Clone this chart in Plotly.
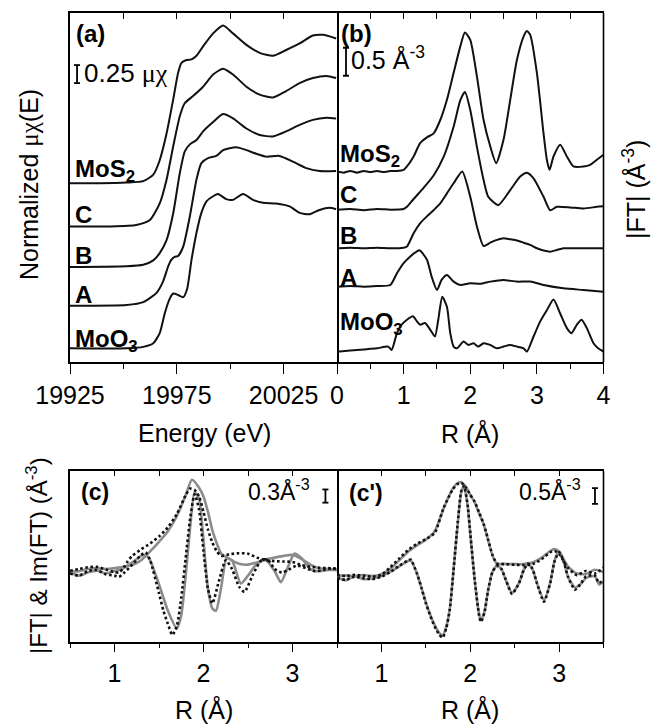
import plotly.graph_objects as go

W, H = 653, 725
FONT = "Liberation Sans, Arial, sans-serif"

# ---------------- Panel (a): normalized XANES, Energy (eV) ----------------
a_labels = ["MoS<sub>2</sub>", "C", "B", "A", "MoO<sub>3</sub>"]
a_offsets = [2.48, 1.88, 1.32, 0.78, 0.19]

a_mos2_E = [19925, 19936, 19951.5, 19959.3, 19964, 19967, 19970.2, 19973.3, 19975.6, 19977.2, 19979.5,
            19981.9, 19984.2, 19987.3, 19992, 19996.7, 20001.3, 20007.6, 20013.8, 20020, 20026.2,
            20032.5, 20038.7, 20043.4, 20049.6]
a_mos2_mu = [0, 0, 0.01, 0.03, 0.12, 0.32, 0.69, 1.16, 1.53, 1.67, 1.71, 1.72, 1.77, 1.90, 2.08, 2.19,
             2.08, 1.92, 1.81, 1.77, 1.85, 1.94, 2.05, 2.06, 2.01]

a_c_E = [19925, 19943.7, 19956, 19962.4, 19967, 19970.2, 19973.3, 19976.4, 19978.7, 19982.6, 19987.3,
         19992, 19996.7, 20001.3, 20007.6, 20013.8, 20020, 20026.2, 20032.5, 20038.7, 20045, 20049.6]
a_c_mu = [0, 0, 0.02, 0.09, 0.32, 0.65, 1.11, 1.53, 1.71, 1.81, 1.94, 2.11, 2.19, 2.11, 1.94, 1.83,
          1.79, 1.88, 1.99, 2.06, 2.09, 2.06]

a_b_E = [19925, 19951.5, 19959.3, 19964, 19967, 19970.2, 19973.3, 19976.4, 19978.7, 19981.1, 19984.2,
         19987.3, 19992, 19996.7, 20001.3, 20007.6, 20013.8, 20020, 20026.2, 20032.5, 20038.7, 20045,
         20049.6]
a_b_mu = [0, 0.01, 0.03, 0.09, 0.19, 0.37, 0.74, 1.30, 1.60, 1.70, 1.76, 1.88, 2.01, 2.12, 2.06, 1.92,
          1.83, 1.81, 1.88, 1.97, 2.04, 2.07, 2.06]

a_a_E = [19925, 19951.5, 19959.3, 19965.5, 19968.6, 19971, 19972.5, 19974, 19975.6, 19978, 19981.1,
         19984.2, 19986.5, 19989.6, 19993.5, 19996.7, 20002.9, 20007.6, 20012.2, 20016.9, 20023.1,
         20029.4, 20035.6, 20041.8, 20049.6]
a_a_mu = [0, 0.01, 0.05, 0.18, 0.34, 0.55, 0.64, 0.68, 0.69, 0.82, 1.24, 1.75, 1.98, 2.05, 2.08, 2.16,
          2.20, 2.16, 2.11, 2.07, 2.08, 2.00, 1.91, 1.87, 1.87]

a_moo3_E = [19925, 19951.5, 19959.3, 19964, 19967, 19969.4, 19971.7, 19973.3, 19975.6, 19978, 19979.8,
            19981.9, 19984.2, 19986.5, 19988.9, 19992, 19994.3, 19998.2, 20001.3, 20006, 20010.7,
            20015.3, 20021.6, 20027.8, 20032.5, 20037.2, 20041.8, 20046.5, 20049.6]
a_moo3_mu = [0, 0, 0.02, 0.07, 0.21, 0.49, 0.69, 0.76, 0.74, 0.71, 0.82, 1.23, 1.60, 1.88, 2.04, 2.11,
             2.14, 2.07, 2.06, 2.14, 2.06, 2.02, 2.01, 1.97, 1.88, 1.86, 1.92, 1.95, 1.93]

a_E = [a_mos2_E, a_c_E, a_b_E, a_a_E, a_moo3_E]
a_mu = [a_mos2_mu, a_c_mu, a_b_mu, a_a_mu, a_moo3_mu]
a_ticks = [19925, 19975, 20025]
a_ticktext = ["19925", "19975", "20025"]

# ---------------- Panel (b): |FT| vs R ----------------
b_offsets = [3.38, 2.71, 2.03, 1.345, 0.185]

b_mos2_R = [0, 0.1, 0.2, 0.3, 0.4, 0.5, 0.6, 0.7, 0.8, 0.9, 1.0, 1.05, 1.15, 1.25, 1.35, 1.45, 1.55, 1.65,
            1.75, 1.85, 1.92, 2.0, 2.1, 2.2, 2.3, 2.39, 2.5, 2.6, 2.7, 2.8, 2.85, 2.9, 3.0, 3.1, 3.15,
            3.19, 3.25, 3.35, 3.45, 3.55, 3.7, 3.8, 3.9, 4.0]
b_mos2_ft = [0.02, 0.0, 0.03, 0.0, 0.03, 0.01, 0.03, 0.01, 0.03, 0.03, 0.05, 0.11, 0.29, 0.53, 0.63,
             0.70, 0.94, 1.30, 1.78, 2.25, 2.50, 2.37, 1.72, 0.94, 0.47, 0.17, 0.59, 1.30, 2.01, 2.43,
             2.53, 2.46, 1.78, 0.70, 0.23, 0.05, 0.29, 0.50, 0.29, 0.11, 0.11, 0.14, 0.23, 0.32]

b_c_R = [0, 0.2, 0.4, 0.6, 0.8, 1.0, 1.05, 1.15, 1.3, 1.45, 1.6, 1.75, 1.85, 1.92, 2.0, 2.1, 2.2, 2.27,
         2.42, 2.6, 2.75, 2.85, 2.95, 3.1, 3.2, 3.3, 3.5, 3.7, 3.9, 4.0]
b_c_ft = [0.01, 0.02, 0.0, 0.02, 0.01, 0.02, 0.06, 0.20, 0.40, 0.62, 0.95, 1.49, 1.96, 2.11, 1.79, 1.13,
          0.54, 0.24, 0.09, 0.36, 0.60, 0.67, 0.57, 0.24, 0.0, 0.06, 0.05, 0.03, 0.06, 0.07]

b_b_R = [0, 0.2, 0.4, 0.6, 0.8, 1.0, 1.05, 1.15, 1.25, 1.35, 1.45, 1.55, 1.65, 1.75, 1.88, 2.0, 2.1, 2.2,
         2.3, 2.4, 2.5, 2.6, 2.7, 2.8, 2.9, 3.0, 3.1, 3.2, 3.3, 3.4, 3.6, 3.8, 4.0]
b_b_ft = [0.0, 0.01, 0.0, 0.01, 0.0, 0.01, 0.03, 0.27, 0.45, 0.57, 0.68, 0.80, 0.98, 1.16, 1.37, 0.92,
          0.39, 0.04, 0.10, 0.15, 0.18, 0.16, 0.14, 0.10, 0.06, 0.0, -0.04, -0.06, -0.03, 0.0, 0.0,
          0.0, 0.0]

b_a_R = [0, 0.2, 0.4, 0.6, 0.8, 0.9, 1.0, 1.1, 1.2, 1.24, 1.35, 1.42, 1.5, 1.57, 1.65, 1.75, 1.85, 2.0,
         2.15, 2.3, 2.5, 2.7, 2.9, 3.1, 3.4, 3.7, 4.0]
b_a_ft = [0.0, 0.01, 0.0, 0.01, 0.03, 0.24, 0.42, 0.54, 0.63, 0.65, 0.48, 0.18, -0.06, 0.12, 0.21,
          0.09, 0.03, 0.06, 0.05, 0.09, 0.12, 0.09, 0.09, 0.03, -0.03, -0.06, -0.09]

b_moo3_R = [0, 0.2, 0.4, 0.6, 0.77, 0.82, 0.9, 0.97, 1.05, 1.14, 1.2, 1.25, 1.32, 1.4, 1.47, 1.52, 1.58,
            1.65, 1.7, 1.75, 1.8, 1.9, 1.97, 2.05, 2.12, 2.2, 2.3, 2.4, 2.5, 2.6, 2.7, 2.8, 2.85,
            2.95, 3.05, 3.15, 3.25, 3.35, 3.45, 3.52, 3.6, 3.67, 3.75, 3.85, 3.92, 4.0]
b_moo3_ft = [0, 0.02, 0.04, 0.06, 0.09, 0.03, 0.33, 0.48, 0.57, 0.63, 0.54, 0.48, 0.51, 0.39, 0.27,
             0.57, 0.98, 0.80, 0.33, 0.09, 0.06, 0.18, 0.12, 0.15, 0.09, 0.15, 0.12, 0.06, 0.09, 0.12,
             0.09, 0.06, 0.0, 0.27, 0.54, 0.74, 0.93, 0.68, 0.42, 0.33, 0.48, 0.57, 0.42, 0.15, 0.06,
             0.0]

b_R = [b_mos2_R, b_c_R, b_b_R, b_a_R, b_moo3_R]
b_ft = [b_mos2_ft, b_c_ft, b_b_ft, b_a_ft, b_moo3_ft]

# ---------------- Panel (c): data vs fit ----------------
c_abs_data_R = [0.5, 0.6, 0.7, 0.8, 0.9, 1.0, 1.05, 1.1, 1.15, 1.2, 1.3, 1.4, 1.5, 1.6, 1.7, 1.8, 1.85,
                1.9, 1.95, 2.0, 2.05, 2.1, 2.15, 2.2, 2.3, 2.4, 2.5, 2.6, 2.7, 2.8, 2.9, 3.0, 3.1, 3.2,
                3.3, 3.4, 3.5]
c_abs_data = [0.06, 0.10, 0.14, 0.15, 0.09, 0.03, 0.02, 0.12, 0.28, 0.40, 0.55, 0.68, 0.84, 1.05, 1.35,
              1.78, 1.93, 1.90, 1.75, 1.40, 1.00, 0.70, 0.50, 0.40, 0.44, 0.46, 0.45, 0.36, 0.30, 0.28,
              0.27, 0.26, 0.19, 0.15, 0.13, 0.12, 0.10]
c_abs_fit_R = [0.5, 0.6, 0.7, 0.8, 0.9, 1.0, 1.1, 1.2, 1.3, 1.4, 1.5, 1.6, 1.7, 1.8, 1.87, 1.95, 2.0,
               2.05, 2.1, 2.15, 2.2, 2.3, 2.4, 2.5, 2.6, 2.7, 2.8, 2.9, 3.0, 3.1, 3.2, 3.3, 3.4, 3.5]
c_abs_fit = [0.04, 0.05, 0.10, 0.12, 0.10, 0.12, 0.15, 0.19, 0.30, 0.50, 0.72, 0.96, 1.30, 1.78, 2.13,
             1.95, 1.75, 1.40, 0.98, 0.68, 0.45, 0.32, 0.22, 0.20, 0.25, 0.32, 0.36, 0.40, 0.42, 0.33,
             0.20, 0.12, 0.10, 0.08]
c_im_data_R = [0.5, 0.6, 0.7, 0.8, 0.9, 1.0, 1.05, 1.1, 1.2, 1.3, 1.35, 1.4, 1.5, 1.55, 1.6, 1.65, 1.7,
               1.75, 1.8, 1.85, 1.9, 1.95, 2.0, 2.05, 2.1, 2.17, 2.25, 2.32, 2.4, 2.46, 2.55, 2.65,
               2.72, 2.8, 2.88, 2.95, 3.05, 3.15, 3.25, 3.35, 3.45, 3.5]
c_im_data = [0.0, -0.05, 0.05, 0.08, -0.02, -0.05, -0.08, 0.0, 0.20, 0.42, 0.48, 0.30, -0.45, -0.85,
             -1.15, -1.40, -1.20, -0.55, 0.35, 1.25, 1.80, 1.45, 0.50, -0.35, -0.68, -0.20, 0.30, 0.10,
             -0.30, -0.42, -0.05, 0.30, 0.32, 0.10, 0.02, 0.08, 0.18, 0.12, 0.05, 0.08, 0.12, 0.10]
c_im_fit_R = [0.5, 0.6, 0.7, 0.8, 0.9, 1.0, 1.1, 1.2, 1.3, 1.35, 1.4, 1.5, 1.6, 1.7, 1.75, 1.8, 1.85,
              1.9, 1.95, 2.0, 2.05, 2.1, 2.14, 2.2, 2.26, 2.32, 2.42, 2.5, 2.6, 2.7, 2.8, 2.87, 2.95,
              3.02, 3.1, 3.2, 3.3, 3.4, 3.5]
c_im_fit = [0.02, -0.05, 0.02, 0.06, 0.0, 0.05, 0.12, 0.25, 0.40, 0.42, 0.30, -0.25, -0.85, -1.25,
            -0.95, -0.05, 1.05, 1.85, 1.70, 0.75, -0.35, -0.80, -0.85, -0.30, 0.35, 0.30, -0.23, -0.05,
            0.22, 0.30, 0.05, -0.20, 0.15, 0.45, 0.35, 0.10, 0.05, 0.08, 0.08]

# ---------------- Panel (c'): data vs fit ----------------
cp_abs_R = [0.5, 0.6, 0.7, 0.8, 0.9, 1.0, 1.1, 1.2, 1.3, 1.4, 1.5, 1.6, 1.7, 1.8, 1.85, 1.9, 1.95, 2.0,
            2.05, 2.1, 2.15, 2.2, 2.25, 2.3, 2.4, 2.5, 2.6, 2.7, 2.8, 2.9, 2.95, 3.0, 3.1, 3.2, 3.3,
            3.4, 3.5]
cp_abs_data = [0.05, 0.02, 0.06, 0.03, 0.0, 0.06, 0.30, 0.58, 0.85, 1.05, 1.20, 1.40, 2.20, 2.78, 2.95,
               3.00, 2.85, 2.62, 2.40, 2.05, 1.70, 1.20, 0.70, 0.42, 0.40, 0.38, 0.37, 0.40, 0.55, 0.78,
               0.82, 0.72, 0.28, 0.05, 0.18, 0.10, 0.28]
cp_abs_fit = [0.03, 0.04, 0.02, 0.05, 0.02, 0.08, 0.25, 0.52, 0.80, 1.00, 1.18, 1.45, 2.18, 2.80, 2.98,
              3.02, 2.88, 2.62, 2.38, 2.02, 1.68, 1.18, 0.68, 0.42, 0.41, 0.40, 0.40, 0.45, 0.60, 0.82,
              0.88, 0.80, 0.32, 0.10, 0.08, 0.22, 0.15]
cp_im_R = [0.5, 0.6, 0.7, 0.8, 0.9, 1.0, 1.1, 1.2, 1.3, 1.33, 1.4, 1.45, 1.5, 1.55, 1.6, 1.65, 1.69, 1.73,
           1.77, 1.81, 1.86, 1.9, 1.93, 1.97, 2.0, 2.05, 2.1, 2.12, 2.16, 2.2, 2.25, 2.3, 2.35, 2.4,
           2.47, 2.55, 2.6, 2.65, 2.7, 2.75, 2.83, 2.9, 2.95, 3.0, 3.05, 3.1, 3.18, 3.25, 3.3, 3.4,
           3.45, 3.5]
cp_im_data = [-0.05, -0.10, 0.0, -0.05, -0.08, 0.0, 0.15, 0.35, 0.52, 0.55, 0.10, -0.35, -0.85, -1.25,
              -1.60, -1.85, -1.95, -1.65, -1.05, 0.15, 1.75, 2.75, 2.90, 2.30, 1.40, -0.10, -1.25, -1.45,
              -1.15, -0.45, 0.15, 0.35, 0.25, -0.10, -0.55, -0.20, 0.20, 0.42, 0.25, -0.20, -0.80,
              -0.20, 0.50, 0.78, 0.50, 0.0, -0.42, -0.20, 0.0, 0.05, -0.20, -0.10]
cp_im_fit = [-0.02, -0.12, 0.02, -0.08, -0.06, 0.02, 0.15, 0.33, 0.50, 0.52, 0.10, -0.35, -0.82, -1.22,
             -1.55, -1.80, -1.88, -1.60, -1.02, 0.15, 1.72, 2.72, 2.88, 2.28, 1.38, -0.10, -1.20,
             -1.40, -1.12, -0.45, 0.15, 0.35, 0.25, -0.10, -0.52, -0.20, 0.20, 0.42, 0.25, -0.20,
             -0.75, -0.20, 0.52, 0.82, 0.52, 0.0, -0.35, -0.22, -0.05, 0.02, -0.25, -0.15]

# ---------------- figure ----------------
fig = go.Figure()
BLACK = "#111111"
GRAY = "#8c8c8c"

for E, mu, off in zip(a_E, a_mu, a_offsets):
    fig.add_trace(go.Scatter(x=E, y=[v + off for v in mu], mode="lines", xaxis="x", yaxis="y",
                             line=dict(color=BLACK, width=2, shape="spline", smoothing=0.6),
                             hoverinfo="skip"))

for R, ft, off in zip(b_R, b_ft, b_offsets):
    fig.add_trace(go.Scatter(x=R, y=[v + off for v in ft], mode="lines", xaxis="x2", yaxis="y2",
                             line=dict(color=BLACK, width=2, shape="spline", smoothing=0.6),
                             hoverinfo="skip"))


def fit_line(x, y, xa, ya):
    return go.Scatter(x=x, y=y, mode="lines", xaxis=xa, yaxis=ya, hoverinfo="skip",
                      line=dict(color=GRAY, width=2.6, shape="spline", smoothing=0.6))


def data_dots(x, y, xa, ya):
    return go.Scatter(x=x, y=y, mode="lines", xaxis=xa, yaxis=ya, hoverinfo="skip",
                      line=dict(color=BLACK, width=2.6, dash="2.6px,2.6px", shape="spline",
                                smoothing=0.6))


fig.add_trace(fit_line(c_abs_fit_R, c_abs_fit, "x3", "y3"))
fig.add_trace(fit_line(c_im_fit_R, c_im_fit, "x3", "y3"))
fig.add_trace(data_dots(c_abs_data_R, c_abs_data, "x3", "y3"))
fig.add_trace(data_dots(c_im_data_R, c_im_data, "x3", "y3"))

fig.add_trace(fit_line(cp_abs_R, cp_abs_fit, "x4", "y4"))
fig.add_trace(fit_line(cp_im_R, cp_im_fit, "x4", "y4"))
fig.add_trace(data_dots(cp_abs_R, cp_abs_data, "x4", "y4"))
fig.add_trace(data_dots(cp_im_R, cp_im_data, "x4", "y4"))

# empty traces so the top (inside-tick) overlay axes get drawn
for xa, ya in [("x5", "y"), ("x6", "y2"), ("x7", "y3"), ("x8", "y4")]:
    fig.add_trace(go.Scatter(x=[None], y=[None], xaxis=xa, yaxis=ya, mode="lines", hoverinfo="skip"))

XA = [70 / W, 337 / W]
XB = [337 / W, 603.5 / W]
YT = [1 - 362 / H, 1 - 13 / H]
YB = [1 - 642 / H, 1 - 471 / H]
LW = 1.6


def xax(domain, rng, tickvals, ticktext, minor_vals, anchor, ticklen, minorlen):
    return dict(domain=domain, range=rng, anchor=anchor, showgrid=False, zeroline=False,
                showline=True, linecolor="black", linewidth=LW, mirror=True,
                ticks="outside", ticklen=ticklen, tickwidth=1.4, tickcolor="black",
                tickmode="array", tickvals=tickvals, ticktext=ticktext, showticklabels=True,
                tickfont=dict(size=25, color="black", family=FONT),
                minor=dict(tickmode="array", tickvals=minor_vals, ticks="outside",
                           ticklen=minorlen, tickwidth=1.4, tickcolor="black", showgrid=False))


def yax(domain, rng, anchor, line=True):
    return dict(domain=domain, range=rng, anchor=anchor, showgrid=False, zeroline=False,
                showline=line, linecolor="black", linewidth=LW, mirror=True, ticks="",
                showticklabels=False)


def topax(over, anchor, rng, tickvals, ticklen):
    return dict(overlaying=over, anchor=anchor, side="top", range=rng, showgrid=False,
                zeroline=False, showline=False, ticks="inside", ticklen=ticklen, tickwidth=1.4,
                tickcolor="black", tickmode="array", tickvals=tickvals, showticklabels=False)


R_ticks = [0, 1, 2, 3, 4]
R_ticktext = ["0", "1", "2", "3", "4"]
Rc_ticks = [1, 2, 3]
Rc_ticktext = ["1", "2", "3"]

fig.update_layout(
    width=W, height=H, margin=dict(l=0, r=0, t=0, b=0, pad=0, autoexpand=False),
    paper_bgcolor="white", plot_bgcolor="white", showlegend=False,
    font=dict(family=FONT, size=25, color="black"),
    xaxis=xax(XA, [19925, 20050], a_ticks, a_ticktext, [19950, 20000], "y", 10, 5),
    yaxis=yax(YT, [0, 4.843], "x"),
    xaxis2=xax(XB, [0, 4], R_ticks, R_ticktext, [0.5, 1.5, 2.5, 3.5], "y2", 10, 5),
    yaxis2=yax(YT, [0, 6.23], "x2", line=False),
    xaxis3=xax(XA, [0.5, 3.5], Rc_ticks, Rc_ticktext, [0.5, 1.5, 2.5, 3.5], "y3", 8, 4),
    yaxis3=yax(YB, [-1.56, 2.33], "x3"),
    xaxis4=xax(XB, [0.5, 3.5], Rc_ticks, Rc_ticktext, [0.5, 1.5, 2.5, 3.5], "y4", 8, 4),
    yaxis4=yax(YB, [-2.09, 3.38], "x4", line=False),
    xaxis5=topax("x", "y", [19925, 20050], [19950, 19975, 20000, 20025], 6),
    xaxis6=topax("x2", "y2", [0, 4], [0.5, 1, 1.5, 2, 2.5, 3, 3.5], 6),
    xaxis7=topax("x3", "y3", [0.5, 3.5], [1, 1.5, 2, 2.5, 3], 5),
    xaxis8=topax("x4", "y4", [0.5, 3.5], [1, 1.5, 2, 2.5, 3], 5),
)

# right-hand frame edges of panels (b) and (c'); the shared divider comes from (a)/(c)
for xr, yr in [("x2", "y2"), ("x4", "y4")]:
    fig.add_shape(type="line", xref=xr + " domain", yref=yr + " domain", x0=1, x1=1, y0=0, y1=1,
                  line=dict(color="black", width=LW))

SERIF = "font-family:Liberation Serif"


def ann(text, x, y, size=25, bold=False, xanchor="center", yanchor="middle", angle=0):
    if bold:
        text = "<b>" + text + "</b>"
    fig.add_annotation(text=text, x=x / W, y=1 - y / H, xref="paper", yref="paper",
                       xanchor=xanchor, yanchor=yanchor, showarrow=False, textangle=angle,
                       font=dict(size=size, color="black", family=FONT))


# axis titles
ann("Energy (eV)", 204, 433)
ann("R (Å)", 470, 433)
ann("R (Å)", 204, 709)
ann("R (Å)", 470, 709)
ann('Normalized <span style="%s">μχ</span>(E)' % SERIF, 29, 185, angle=-90)
ann("|FT| (Å<sup>-3</sup>)", 634, 190, angle=-90)
ann("|FT| &amp; Im(FT) (Å<sup>-3</sup>)", 37, 556, size=24, angle=-90)

# panel tags
ann("(a)", 74, 33, size=24, bold=True, xanchor="left")
ann("(b)", 339, 33, size=24, bold=True, xanchor="left")
ann("(c)", 79, 492, size=23, bold=True, xanchor="left")
ann("(c')", 347, 493, size=23, bold=True, xanchor="left")

# sample labels
a_label_y = [170, 215, 255, 295, 340]
b_label_y = [155, 194, 235, 277, 323]
for lab, ya, yb in zip(a_labels, a_label_y, b_label_y):
    ann(lab, 73, ya, size=24, bold=True, xanchor="left")
    ann(lab, 338, yb, size=24, bold=True, xanchor="left")

# scale bar texts
ann('0.25 <span style="%s">μχ</span>' % SERIF, 82, 73, size=26, xanchor="left")
ann("0.5 Å<sup>-3</sup>", 349, 58, size=25, xanchor="left")
ann("0.3Å<sup>-3</sup>", 312, 490, size=23, xanchor="right")
ann("0.5Å<sup>-3</sup>", 583, 490, size=23, xanchor="right")

# scale bars (in data units of each panel)
bars = [
    ("x", "y", 19928.3, 3.87, 4.12, 1.4),
    ("x2", "y2", 0.135, 5.11, 5.61, 0.045),
    ("x3", "y3", 3.37, 1.61, 1.91, 0.034),
    ("x4", "y4", 3.404, 2.33, 2.83, 0.034),
]
for xr, yr, xc, y0, y1, hw in bars:
    ln = dict(color="black", width=1.8)
    fig.add_shape(type="line", xref=xr, yref=yr, x0=xc, x1=xc, y0=y0, y1=y1, line=ln)
    fig.add_shape(type="line", xref=xr, yref=yr, x0=xc - hw, x1=xc + hw, y0=y0, y1=y0, line=ln)
    fig.add_shape(type="line", xref=xr, yref=yr, x0=xc - hw, x1=xc + hw, y0=y1, y1=y1, line=ln)

fig.write_html("out.html")
